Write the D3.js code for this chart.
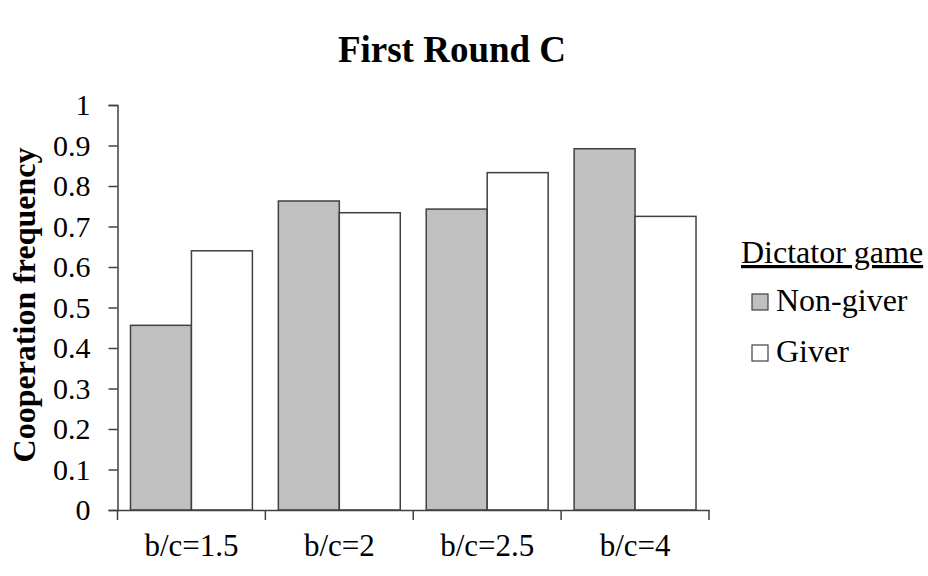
<!DOCTYPE html>
<html>
<head>
<meta charset="utf-8">
<script src="https://cdn.jsdelivr.net/npm/d3@7"></script>
<style>
  html, body { margin: 0; padding: 0; background: #fff; }
  svg { display: block; }
  svg text { font-family: "Liberation Serif", Tinos, "Times New Roman", Times, "DejaVu Serif", serif !important; fill: #000; }
</style>
</head>
<body>
<script>
const categories = ["b/c=1.5", "b/c=2", "b/c=2.5", "b/c=4"];
const seriesNames = ["Non-giver", "Giver"];
const nonGiver = [0.456, 0.763, 0.743, 0.892];
const giver = [0.640, 0.734, 0.833, 0.725];
const yTicks = [0, 0.1, 0.2, 0.3, 0.4, 0.5, 0.6, 0.7, 0.8, 0.9, 1];
const yTickLabels = ["0", "0.1", "0.2", "0.3", "0.4", "0.5", "0.6", "0.7", "0.8", "0.9", "1"];
const titleText = "First Round C";
const yTitle = "Cooperation frequency";
const legendTitle = "Dictator game";

const W = 928, H = 576;
const fills = ["#c0c0c0", "#ffffff"];
const strokeCol = "#404040";
const SERIF = "'Liberation Serif', Tinos, 'Times New Roman', Times, 'DejaVu Serif', serif";

const svg = d3.select("body").append("svg").attr("width", W).attr("height", H)
  .attr("font-family", SERIF);

const x0 = d3.scaleBand().domain(categories).range([117.5, 709]).paddingInner(0).paddingOuter(0);
const x1 = d3.scaleBand().domain(seriesNames).range([0, x0.bandwidth()]).paddingInner(0).paddingOuter(0.213);
const y = d3.scaleLinear().domain([0, 1]).range([510, 105]);

const data = categories.map((c, i) => ({ cat: c, vals: [nonGiver[i], giver[i]] }));

// bars
const groups = svg.append("g").selectAll("g").data(data).join("g")
  .attr("transform", d => `translate(${x0(d.cat)},0)`);
groups.selectAll("rect").data(d => d.vals.map((v, j) => ({ v, j })))
  .join("rect")
  .attr("x", d => x1(seriesNames[d.j]))
  .attr("width", x1.bandwidth())
  .attr("y", d => y(d.v))
  .attr("height", d => y(0) - y(d.v))
  .attr("fill", d => fills[d.j])
  .attr("stroke", strokeCol)
  .attr("stroke-width", 1.5);

// y axis
const yAxis = d3.axisLeft(y).tickValues(yTicks).tickFormat((d, i) => yTickLabels[i]).tickSize(9).tickPadding(18);
const gy = svg.append("g").attr("transform", "translate(117.5,0)").call(yAxis).attr("font-family", SERIF);
gy.select(".domain").attr("stroke", strokeCol).attr("stroke-width", 1.5);
gy.selectAll(".tick line").attr("stroke", strokeCol).attr("stroke-width", 1.5);
gy.selectAll(".tick text").attr("font-size", 30).attr("fill", "#000");

// x axis
const gx = svg.append("g").attr("transform", "translate(0,510)")
  .call(d3.axisBottom(x0).tickSize(0).tickPadding(24)).attr("font-family", SERIF);
gx.select(".domain").attr("stroke", strokeCol).attr("stroke-width", 1.5);
gx.selectAll(".tick text").attr("font-size", 31).attr("fill", "#000");
const bounds = categories.map(c => x0(c)).concat([x0.range()[1]]);
gx.append("g").selectAll("line").data(bounds).join("line")
  .attr("x1", d => d).attr("x2", d => d).attr("y1", 0).attr("y2", 10)
  .attr("stroke", strokeCol).attr("stroke-width", 1.5);

// title
svg.append("text").attr("x", 452).attr("y", 62).attr("text-anchor", "middle")
  .attr("font-size", 37).attr("font-weight", "bold").text(titleText);

// y title
svg.append("text").attr("transform", "translate(35,305) rotate(-90)")
  .attr("text-anchor", "middle").attr("font-size", 32).attr("font-weight", "bold").text(yTitle);

// legend
const lg = svg.append("g");
lg.append("text").attr("x", 741).attr("y", 263).attr("font-size", 32)
  .attr("text-decoration", "underline").text(legendTitle);
const items = lg.selectAll("g").data(seriesNames).join("g")
  .attr("transform", (d, i) => `translate(0,${i * 51})`);
items.append("rect").attr("x", 752).attr("y", 294).attr("width", 16).attr("height", 16)
  .attr("fill", (d, i) => fills[i]).attr("stroke", strokeCol).attr("stroke-width", 1.2);
items.append("text").attr("x", 776).attr("y", 311).attr("font-size", 32).text(d => d);
</script>
</body>
</html>
